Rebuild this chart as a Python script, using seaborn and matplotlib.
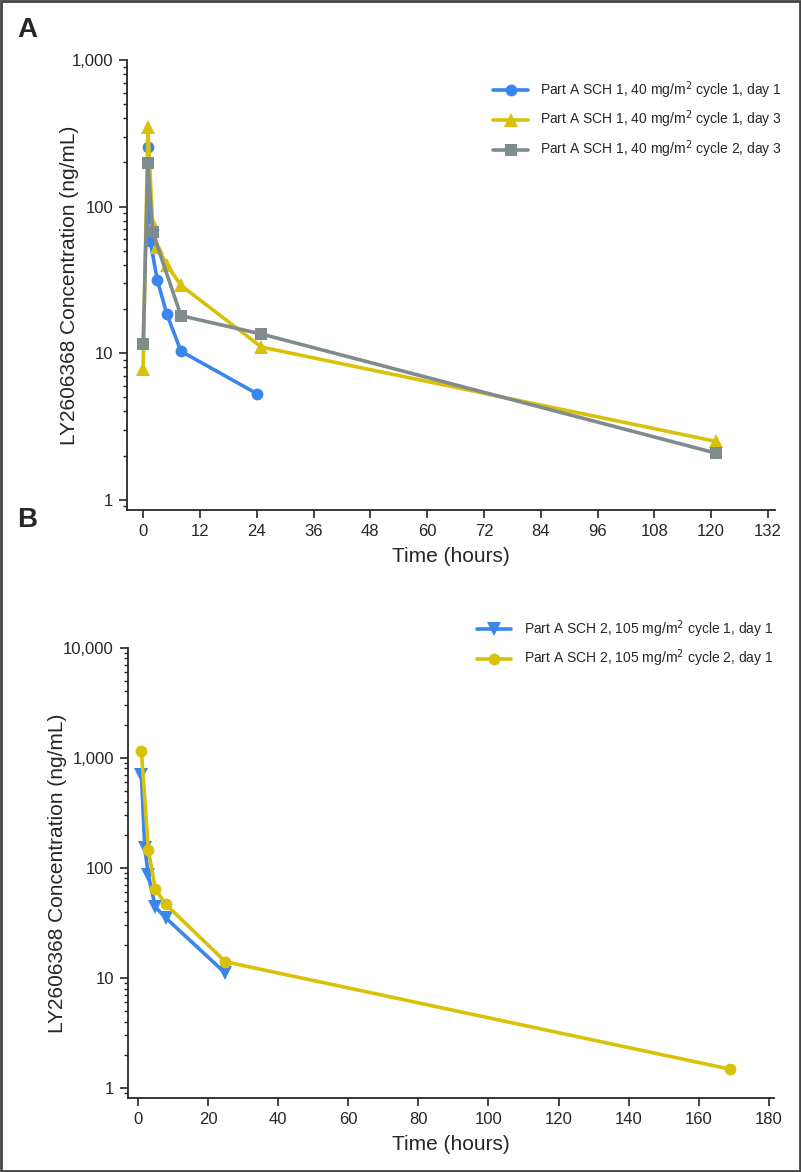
import pandas as pd
import matplotlib
matplotlib.use("Agg")
import matplotlib.pyplot as plt
import matplotlib.ticker as mticker
from matplotlib.patches import Rectangle
import seaborn as sns

# Panel A: Part A SCH 1, 40 mg/m2
a_c1d1_time = [1, 1.5, 3, 5, 8, 24]
a_c1d1_conc = [256, 58, 31.5, 18.5, 10.3, 5.3]
a_c1d3_time = [0, 1, 2, 3, 5, 8, 25, 121]
a_c1d3_conc = [7.8, 347, 76, 53, 40, 29, 11, 2.5]
a_c2d3_time = [0, 1, 2, 8, 25, 121]
a_c2d3_conc = [11.6, 197, 67, 18, 13.5, 2.08]

# Panel B: Part A SCH 2, 105 mg/m2
b_c1d1_time = [1, 2, 3, 5, 8, 25]
b_c1d1_conc = [700, 150, 86, 44, 35, 11]
b_c2d1_time = [1, 3, 5, 8, 25, 169]
b_c2d1_conc = [1158, 145, 64, 46.5, 14, 1.48]

blue = "#3b86ea"
yellow = "#d9c10a"
gray = "#7f8b8c"

sns.set_style("ticks")
plt.rcParams['font.family'] = ['Liberation Sans', 'DejaVu Sans']

fig = plt.figure(figsize=(8.01, 11.72), dpi=100)
ax1 = fig.add_axes([0.1586, 0.5648, 0.809, 0.384])
ax2 = fig.add_axes([0.1594, 0.0631, 0.8066, 0.3843])

lw = 2.6
ms = 8.5

sns.lineplot(x=a_c1d1_time, y=a_c1d1_conc, ax=ax1, color=blue, marker="o", markersize=ms,
             markeredgewidth=0, linewidth=lw, label="Part A SCH 1, 40 mg/m$^2$ cycle 1, day 1")
sns.lineplot(x=a_c1d3_time, y=a_c1d3_conc, ax=ax1, color=yellow, marker="^", markersize=ms + 1,
             markeredgewidth=0, linewidth=lw, label="Part A SCH 1, 40 mg/m$^2$ cycle 1, day 3")
sns.lineplot(x=a_c2d3_time, y=a_c2d3_conc, ax=ax1, color=gray, marker="s", markersize=ms - 0.5,
             markeredgewidth=0, linewidth=lw, label="Part A SCH 1, 40 mg/m$^2$ cycle 2, day 3")

sns.lineplot(x=b_c1d1_time, y=b_c1d1_conc, ax=ax2, color=blue, marker="v", markersize=ms + 1,
             markeredgewidth=0, linewidth=lw, label="Part A SCH 2, 105 mg/m$^2$ cycle 1, day 1")
sns.lineplot(x=b_c2d1_time, y=b_c2d1_conc, ax=ax2, color=yellow, marker="o", markersize=ms,
             markeredgewidth=0, linewidth=lw, label="Part A SCH 2, 105 mg/m$^2$ cycle 2, day 1")

fmt = mticker.FuncFormatter(lambda v, p: f"{v:,.0f}")

ax1.set_yscale("log")
ax1.set_ylim(0.85, 1000)
ax1.set_xlim(-3.4, 133.5)
ax1.set_xticks(range(0, 133, 12))

ax2.set_yscale("log")
ax2.set_ylim(0.81, 10000)
ax2.set_xlim(-2.9, 181.4)
ax2.set_xticks(range(0, 181, 20))

for ax in (ax1, ax2):
    ax.yaxis.set_major_formatter(fmt)
    ax.yaxis.set_minor_locator(mticker.LogLocator(base=10, subs=range(2, 10)))
    ax.yaxis.set_minor_formatter(mticker.NullFormatter())
    sns.despine(ax=ax)
    ax.spines['left'].set_linewidth(1.3)
    ax.spines['bottom'].set_linewidth(1.3)
    ax.tick_params(axis='both', which='major', length=6, width=1.2, labelsize=12, pad=4)
    ax.tick_params(axis='y', which='minor', length=3, width=1.0)
    ax.set_xlabel("Time (hours)", fontsize=15, labelpad=6)
    ax.set_ylabel("LY2606368 Concentration (ng/mL)", fontsize=15)

ax1.yaxis.set_label_coords(-0.074, 0.5)
ax2.yaxis.set_label_coords(-0.094, 0.5)

leg_kw = dict(frameon=False, fontsize=10, handlelength=2.5, handletextpad=0.9,
              labelspacing=0.6, borderaxespad=0, borderpad=0, loc="upper left")
ax1.legend(bbox_to_anchor=(0.565, 0.958), **leg_kw)
ax2.legend(bbox_to_anchor=(0.540, 1.066), **leg_kw)

fig.text(0.022, 0.974, "A", fontsize=20, fontweight="bold", va="center")
fig.text(0.022, 0.556, "B", fontsize=20, fontweight="bold", va="center")

fig.patches.append(Rectangle((0.001, 0.001), 0.998, 0.998, transform=fig.transFigure,
                             fill=False, edgecolor="#444444", linewidth=2))

plt.savefig("out.png", dpi=100)
